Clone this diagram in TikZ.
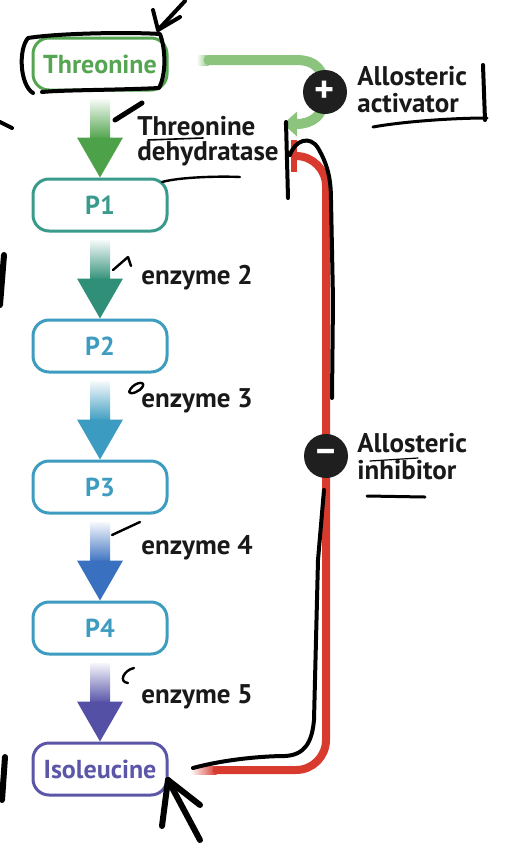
\documentclass[tikz,border=0pt]{standalone}
\usepackage{fontspec}
\setmainfont{PT Sans}
\usetikzlibrary{arrows.meta,calc}
\definecolor{thrgreen}{HTML}{55A552}
\definecolor{stepgreen}{HTML}{4DA249}
\definecolor{pteal}{HTML}{3A9A8C}
\definecolor{stepteal}{HTML}{2F8F78}
\definecolor{pblue}{HTML}{3E9CC0}
\definecolor{stepcyan}{HTML}{3B9BC0}
\definecolor{stepblue}{HTML}{3A70C0}
\definecolor{ilepurple}{HTML}{5B56A8}
\definecolor{steppurple}{HTML}{5450A6}
\definecolor{actgreen}{HTML}{8CC47E}
\definecolor{inhred}{HTML}{D83A2E}
\tikzset{
  box/.style={draw=#1, text=#1, fill=white, line width=1.5pt, rounded corners=8pt,
    minimum width=67pt, minimum height=26pt, font=\bfseries\fontsize{13}{14}\selectfont},
  enz/.style={anchor=west, align=left, inner sep=0pt, text=black!90, font=\bfseries\fontsize{13.5}{12.8}\selectfont},
  sign/.style={circle, fill=black!88, text=white, minimum size=22pt, inner sep=0pt,
    font=\bfseries\fontsize{19}{19}\selectfont},
  pen/.style={black, line width=2pt, line cap=round, line join=round},
}
% shaded shaft and solid head between two boxes
\newcommand{\pathstep}[3]{%
  \shade[top color=#3!6, bottom color=#3] ($(#1.south)+(-10,8)$) rectangle ($(#2.north)+(10,-38)$);
  \fill[#3] ($(#2.north)+(-23,-40)$) -- ($(#2.north)+(23,-40)$) -- (#2.north) -- cycle;}
\begin{document}
\begin{tikzpicture}[x=0.5pt, y=-0.5pt, line join=round, line cap=round]
  \useasboundingbox (0,0) rectangle (514,858);
  % pathway boxes
  \node[box=thrgreen] (thr) at (100,64) {Threonine};
  \node[box=pteal] (p1) at (100,205) {P1};
  \node[box=pblue] (p2) at (100,346) {P2};
  \node[box=pblue] (p3) at (100,487) {P3};
  \node[box=pblue] (p4) at (100,628) {P4};
  \node[box=ilepurple] (ile) at (100,769) {Isoleucine};

  % enzyme steps
  \pathstep{thr}{p1}{stepgreen}
  \pathstep{p1}{p2}{stepteal}
  \pathstep{p2}{p3}{stepcyan}
  \pathstep{p3}{p4}{stepblue}
  \pathstep{p4}{ile}{steppurple}
  \node[enz] (e1) at (137,141) {Threonine\\dehydratase};
  \node[enz] (e2) at (141,278) {enzyme 2};
  \node[enz] (e3) at (141,401) {enzyme 3};
  \node[enz] (e4) at (141,548) {enzyme 4};
  \node[enz] (e5) at (141,697) {enzyme 5};

  % allosteric activation
  \coordinate (actstart) at ($(thr.east)+(40,-4)$);
  \coordinate (dehyd) at (283,124);
  \shade[left color=white, right color=actgreen] ($(thr.east)+(28,-9)$) rectangle ($(actstart)+(0,5)$);
  \draw[actgreen, line width=5pt] (actstart) -- (296,60) .. controls (316,60) and (325,70) .. (325,92);
  \draw[actgreen, line width=5pt, -{Triangle[length=7pt,width=12pt]}]
    (325,92) .. controls (325,116) and (312,124) .. (dehyd);
  \node[sign] (act) at (325,92) {+};
  \node[enz, font=\bfseries\fontsize{13.5}{13.5}\selectfont] (actlbl) at (357,90) {Allosteric\\activator};

  % allosteric inhibition
  \coordinate (inhstart) at ($(ile.east)+(48,1)$);
  \coordinate (bar) at (297,156);
  \shade[left color=white, right color=inhred] ($(ile.east)+(22,-3)$) rectangle ($(inhstart)+(0,4)$);
  \draw[inhred, line width=4pt, rounded corners=15pt] (inhstart) -| (326,456) |- (bar);
  \draw[inhred, line width=3pt, line cap=butt] (294,140) -- (294,172);
  \node[sign] (inh) at (326,456) {–};
  \node[enz, font=\bfseries\fontsize{13.5}{13.5}\selectfont] (inhlbl) at (357,457) {Allosteric\\inhibitor};

  % pen marks
  \draw[pen] (33,93) .. controls (20,85) and (18,50) .. (28,38) .. controls (60,33) and (130,32) .. (160,34)
    .. controls (166,50) and (166,75) .. (159,88) .. controls (120,90) and (60,90) .. (42,92);
  \draw[pen] (185,1) -- (158,30);
  \draw[pen] (153,10) -- (158,30) -- (180,17);
  \draw[pen] (193,768) .. controls (230,758) and (270,756) .. (285,756) .. controls (305,755) and (312,742) .. (314,720)
    -- (318,560) -- (324,490);
  \draw[pen] (286,122) -- (288,198);
  \draw[pen] (290,155) .. controls (295,140) and (310,135) .. (318,148) .. controls (328,165) and (331,180) .. (331,200)
    -- (333,300) -- (332,398);
  \draw[pen, line width=1.5pt] (373,127) .. controls (400,122) and (450,118) .. (487,118);
  \draw[pen] (483,65) -- (485,120);
  \draw[pen, line width=1.5pt] (367,496) -- (425,497);
  \draw[pen, line width=0.6pt] (370,461) -- (418,458);
  \draw[pen, line width=0.8pt] (148,140) -- (203,138);
  \draw[pen, line width=1.2pt] (162,182) .. controls (180,177) and (220,176) .. (240,177);
  \draw[pen, line width=2.5pt] (115,120) -- (142,103);
  \draw[pen, line width=1.2pt] (113,270) -- (128,257) -- (131,266);
  \draw[pen, line width=1.2pt] (129,392) .. controls (132,383) and (145,380) .. (143,386) .. controls (140,392) and (130,395) .. (129,392);
  \draw[pen, line width=1.2pt] (112,535) -- (140,522);
  \draw[pen, line width=1.2pt] (134,668) .. controls (124,670) and (118,682) .. (128,683);
  \draw[pen, line width=3pt] (200,840) -- (168,780);
  \draw[pen, line width=3pt] (168,780) -- (162,826);
  \draw[pen, line width=3pt] (168,780) -- (200,805);
  \draw[pen, line width=3pt] (4,255) -- (0,305);
  \draw[pen, line width=3pt] (5,757) -- (2,800);
  \draw[pen] (0,122) -- (12,128);
\end{tikzpicture}
\end{document}
